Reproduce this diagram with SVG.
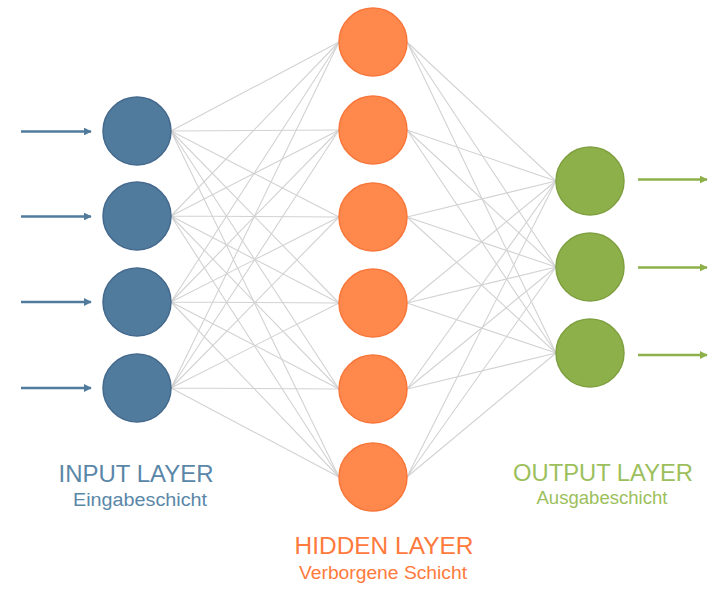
<svg xmlns="http://www.w3.org/2000/svg" width="720" height="591" viewBox="0 0 720 591">
<style>
.c{stroke:#d2d2d2;stroke-width:1.1;fill:none}
.in{fill:#507b9c;stroke:#44698d;stroke-width:1.5}
.hd{fill:#ff884c;stroke:#f9763a;stroke-width:1.5}
.ou{fill:#8eb04a;stroke:#7fa040;stroke-width:1.5}
.ai{stroke:#507b9c;stroke-width:2.6;fill:none}
.ao{stroke:#8eb04a;stroke-width:2.6;fill:none}
text{font-family:"Liberation Sans",Arial,sans-serif;text-anchor:middle}
.t1{font-size:23px}
.t2{font-size:18px}
</style>
<defs>
<marker id="mi" viewBox="0 0 10 10" refX="9" refY="5" markerWidth="3" markerHeight="3" orient="auto" markerUnits="strokeWidth"><path d="M0,0 L10,5 L0,10 z" fill="#507b9c"/></marker>
<marker id="mo" viewBox="0 0 10 10" refX="9" refY="5" markerWidth="3" markerHeight="3" orient="auto" markerUnits="strokeWidth"><path d="M0,0 L10,5 L0,10 z" fill="#8eb04a"/></marker>
</defs>
<rect width="720" height="591" fill="#ffffff"/>
<g id="connectors">
<g class="c">
<path d="M171,131L339,42M171,131L339,130M171,131L339,217M171,131L339,303M171,131L339,389M171,131L339,477"/>
<path d="M171,216L339,42M171,216L339,130M171,216L339,217M171,216L339,303M171,216L339,389M171,216L339,477"/>
<path d="M171,302L339,42M171,302L339,130M171,302L339,217M171,302L339,303M171,302L339,389M171,302L339,477"/>
<path d="M171,388L339,42M171,388L339,130M171,388L339,217M171,388L339,303M171,388L339,389M171,388L339,477"/>
<path d="M407,42L556,181M407,42L556,267M407,42L556,353"/>
<path d="M407,130L556,181M407,130L556,267M407,130L556,353"/>
<path d="M407,217L556,181M407,217L556,267M407,217L556,353"/>
<path d="M407,303L556,181M407,303L556,267M407,303L556,353"/>
<path d="M407,389L556,181M407,389L556,267M407,389L556,353"/>
<path d="M407,477L556,181M407,477L556,267M407,477L556,353"/>
</g>
<path class="ai" d="M21,131.5H91" marker-end="url(#mi)"/>
<path class="ai" d="M21,216.5H91" marker-end="url(#mi)"/>
<path class="ai" d="M21,302H91" marker-end="url(#mi)"/>
<path class="ai" d="M21,388H91" marker-end="url(#mi)"/>
<path class="ao" d="M638,179.5H707" marker-end="url(#mo)"/>
<path class="ao" d="M638,267.5H707" marker-end="url(#mo)"/>
<path class="ao" d="M638,355H707" marker-end="url(#mo)"/>
</g>
<g id="input-1"><circle class="in" cx="137" cy="131" r="34"/></g>
<g id="input-2"><circle class="in" cx="137" cy="216" r="34"/></g>
<g id="input-3"><circle class="in" cx="137" cy="302" r="34"/></g>
<g id="input-4"><circle class="in" cx="137" cy="388" r="34"/></g>
<g id="hidden-1"><circle class="hd" cx="373" cy="42" r="34"/></g>
<g id="hidden-2"><circle class="hd" cx="373" cy="130" r="34"/></g>
<g id="hidden-3"><circle class="hd" cx="373" cy="217" r="34"/></g>
<g id="hidden-4"><circle class="hd" cx="373" cy="303" r="34"/></g>
<g id="hidden-5"><circle class="hd" cx="373" cy="389" r="34"/></g>
<g id="hidden-6"><circle class="hd" cx="373" cy="477" r="34"/></g>
<g id="output-1"><circle class="ou" cx="590" cy="181" r="34"/></g>
<g id="output-2"><circle class="ou" cx="590" cy="267" r="34"/></g>
<g id="output-3"><circle class="ou" cx="590" cy="353" r="34"/></g>
<g id="label-input" fill="#5a87a8">
<text class="t1" x="136" y="482" textLength="155" lengthAdjust="spacingAndGlyphs">INPUT LAYER</text>
<text class="t2" x="140" y="506" textLength="134" lengthAdjust="spacingAndGlyphs">Eingabeschicht</text>
</g>
<g id="label-hidden" fill="#ff7a3c">
<text class="t1" x="384" y="554" textLength="179" lengthAdjust="spacingAndGlyphs">HIDDEN LAYER</text>
<text class="t2" x="383" y="579" textLength="168" lengthAdjust="spacingAndGlyphs">Verborgene Schicht</text>
</g>
<g id="label-output" fill="#9cbf5c">
<text class="t1" x="603" y="481" textLength="180" lengthAdjust="spacingAndGlyphs">OUTPUT LAYER</text>
<text class="t2" x="602" y="504" textLength="131" lengthAdjust="spacingAndGlyphs">Ausgabeschicht</text>
</g>
</svg>
